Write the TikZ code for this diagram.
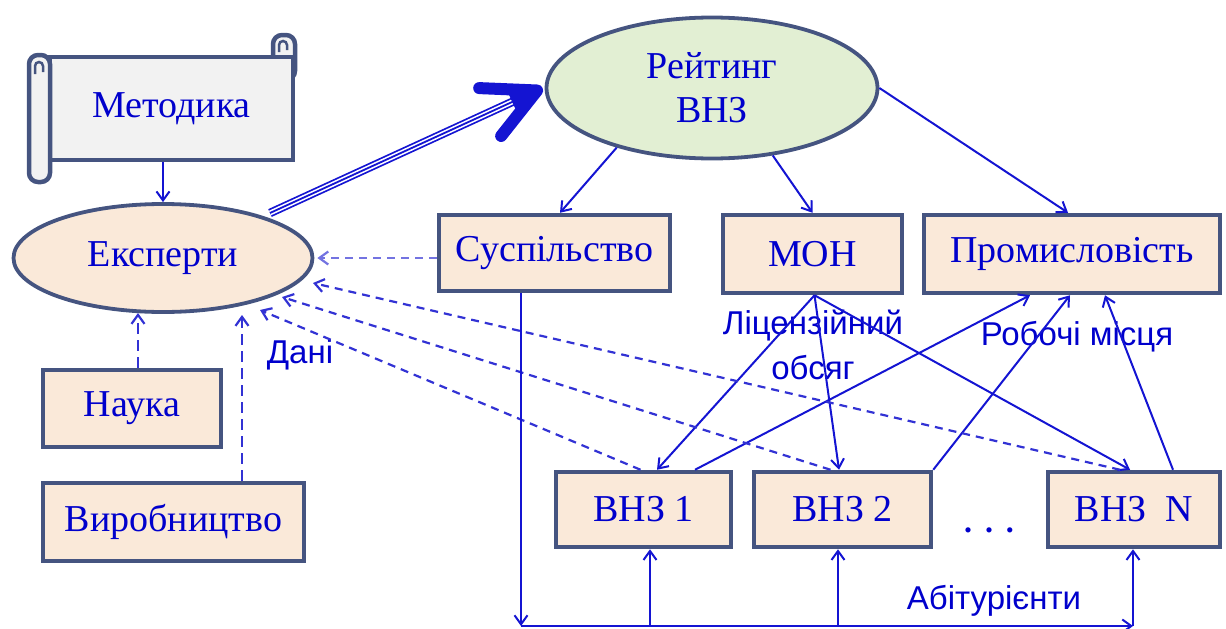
\documentclass[tikz,border=0pt]{standalone}
\usepackage{fontspec}
\setmainfont{Liberation Serif}
\newfontfamily\labelsans{Liberation Sans}
\usetikzlibrary{arrows.meta,calc,shapes.geometric}
\definecolor{txtblue}{RGB}{0,0,204}
\definecolor{lineblue}{RGB}{20,20,210}
\definecolor{dashblue}{RGB}{50,50,212}
\definecolor{lightdash}{RGB}{115,115,225}
\definecolor{boxborder}{RGB}{69,84,128}
\definecolor{peach}{RGB}{250,233,217}
\definecolor{lightgreen}{RGB}{226,239,211}
\definecolor{scrollgray}{RGB}{242,242,242}
\tikzset{
 box/.style={draw=boxborder,line width=4.5pt,fill=peach,inner sep=0pt,text=txtblue,font=\fontsize{38}{44}\selectfont},
 ellnode/.style={ellipse,draw=boxborder,line width=3.8pt,inner sep=0pt,text=txtblue,font=\fontsize{38}{44}\selectfont,align=center},
 scrollpart/.style={draw=boxborder,line width=4.5pt,fill=scrollgray},
 conn/.style={draw=lineblue,line width=2pt,-{Straight Barb[length=9pt,width=13pt]}},
 dconn/.style={draw=dashblue,line width=2.2pt,dash pattern=on 8pt off 6pt,-{Straight Barb[length=9pt,width=13pt]}},
 lbl/.style={inner sep=0pt,text=txtblue,font=\labelsans\fontsize{33}{45}\selectfont,align=center},
}
\begin{document}
\begin{tikzpicture}[x=1pt,y=-1pt]
\useasboundingbox (0,0) rectangle (1226,629);
% scroll (Методика)
\draw[scrollpart,rounded corners=9pt] (273,35) rectangle (295,80);
\node[box,fill=scrollgray,minimum width=243pt,minimum height=103pt] (met) at (171.5,108.5) {Методика};
\draw[scrollpart,rounded corners=9pt] (29,55) rectangle (50,182);
\draw[boxborder,line width=2.5pt] (35,74) -- (35,66) arc (180:0:4pt) -- (43,72);
\draw[boxborder,line width=2.5pt] (279,52) -- (279,45) arc (180:0:4pt) -- (287,50);
% ellipses
\node[ellnode,fill=peach,minimum width=299pt,minimum height=108pt] (eks) at (163,258) {Експерти};
\node[ellnode,fill=lightgreen,minimum width=331pt,minimum height=141pt] (rat) at (712,88) {Рейтинг\\ВНЗ};
% boxes
\node[box,minimum width=231pt,minimum height=76pt] (sus) at (554.5,253) {Суспільство};
\node[box,minimum width=179pt,minimum height=78pt] (mon) at (812.5,254) {МОН};
\node[box,minimum width=296pt,minimum height=78pt] (prom) at (1072,254) {Промисловість};
\node[box,minimum width=175pt,minimum height=75pt] (v1) at (643.5,509.5) {ВНЗ 1};
\node[box,minimum width=177pt,minimum height=75pt] (v2) at (842.5,509.5) {ВНЗ 2};
\node[box,minimum width=172pt,minimum height=75pt] (vN) at (1134,509.5) {ВНЗ\ \ N};
\node[box,minimum width=178pt,minimum height=77pt] (nauka) at (132,408.5) {Наука};
\node[box,minimum width=261pt,minimum height=78pt] (vyr) at (173.5,522) {Виробництво};
\node[inner sep=0pt,text=txtblue,font=\bfseries\fontsize{32}{36}\selectfont,anchor=base] (dots) at (989,532) {.\hspace{13pt}.\hspace{13pt}.};
% labels
\node[lbl] (lic) at (813,345) {Ліцензійний\\обсяг};
\node[lbl] (rob) at (1077,337) {Робочі місця};
\node[lbl] (dani) at (300,355) {Дані};
\node[lbl] (abit) at (994,601) {Абітурієнти};
% Методика -> Експерти
\draw[conn] (met.south -| eks.north) -- (eks.north);
% triple arrow Експерти -> Рейтинг
\coordinate (ts) at ($(eks.center)+(107,-45)$);
\coordinate (tt) at ($(rat.west)+(-2,0)$);
\coordinate (te) at ($(tt)!24pt!(ts)$);
\draw[lineblue,line width=8.5pt] (ts) -- (te);
\draw[white,line width=5pt] (ts) -- (te);
\draw[lineblue,line width=1.8pt] (ts) -- (te);
\coordinate (th) at ($(tt)!6pt!(ts)$);
\fill[lineblue] (th) -- ($(th)!30pt!24:(ts)$) -- ($(th)!30pt!-24:(ts)$) -- cycle;
\draw[lineblue,line width=12pt,line cap=round,line join=round] ($(th)!58pt!27:(ts)$) -- (th) -- ($(th)!58pt!-27:(ts)$);
% Рейтинг -> boxes
\draw[conn] (rat.212) -- ([xshift=5.5pt]sus.north);
\draw[conn] (rat.-48) -- (mon.north);
\draw[conn] (rat.east) -- ([xshift=-4pt]prom.north);
% МОН -> ВНЗ
\coordinate (ms) at ([xshift=2pt]mon.south);
\draw[conn] (ms) -- ([xshift=13.5pt]v1.north);
\draw[conn] (ms) -- ([xshift=-3.5pt]v2.north);
\draw[conn] (ms) -- ([xshift=-4pt]vN.north);
% ВНЗ -> Промисловість
\draw[conn] ([xshift=51.5pt]v1.north) -- ([xshift=-42pt]prom.south);
\draw[conn] (v2.north east) -- ([xshift=-2pt]prom.south);
\draw[conn] ([xshift=39pt]vN.north) -- ([xshift=33pt]prom.south);
% dashed -> Експерти
\draw[dconn,draw=lightdash] (sus.west |- eks.east) -- ([xshift=3pt]eks.east);
\draw[dconn] ([xshift=-3pt]v1.north) -- ($(eks.center)+(97,52)$);
\draw[dconn] ([xshift=-12pt]v2.north) -- ($(eks.center)+(119,39)$);
\draw[dconn] ([xshift=-14pt]vN.north) -- ($(eks.center)+(150,25)$);
\draw[dconn,dash pattern=on 11pt off 6pt] ([xshift=6pt]nauka.north) -- ($(eks.center)+(-25,55)$);
\draw[dconn,dash pattern=on 11pt off 6pt] ([xshift=68.5pt]vyr.north) -- ($(eks.center)+(79,57)$);
% Суспільство -> Абітурієнти -> ВНЗ
\coordinate (bl) at ([xshift=-33.5pt]sus.south |- 0,626);
\coordinate (br) at (vN.south |- 0,626);
\draw[conn] ([xshift=-33.5pt]sus.south) -- (bl);
\draw[conn] (bl) -- ([xshift=-1pt]br);
\draw[conn] ([xshift=6.5pt]v1.south |- bl) -- ([xshift=6.5pt]v1.south);
\draw[conn] ([xshift=-4.5pt]v2.south |- bl) -- ([xshift=-4.5pt]v2.south);
\draw[conn] ([xshift=-1pt]vN.south |- bl) -- ([xshift=-1pt]vN.south);
\end{tikzpicture}
\end{document}
